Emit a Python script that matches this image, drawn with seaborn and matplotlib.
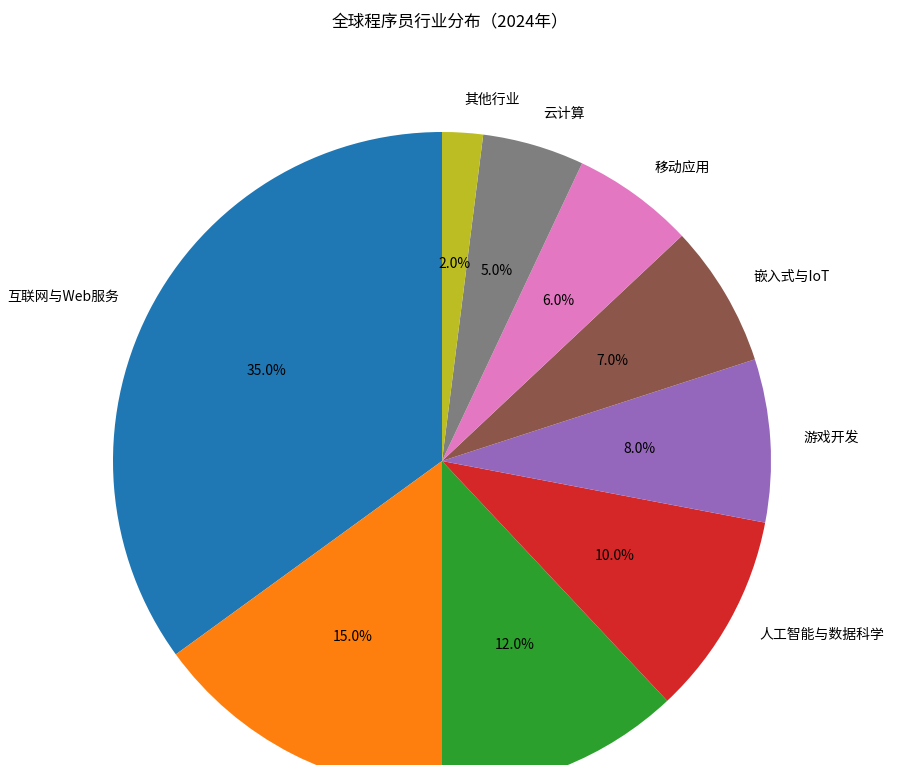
import matplotlib
matplotlib.use("Agg")
import matplotlib.pyplot as plt
import seaborn as sns

# 行业分布数据
industries = ['互联网与Web服务', '金融科技', '企业软件', '人工智能与数据科学',
              '游戏开发', '嵌入式与IoT', '移动应用', '云计算', '其他行业']
shares = [35, 15, 12, 10, 8, 7, 6, 5, 2]
title = '全球程序员行业分布（2024年）'

sns.set_style('white')
plt.rcParams['font.family'] = ['Noto Sans CJK SC', 'DejaVu Sans']
plt.rcParams['text.color'] = 'black'

colors = sns.color_palette('tab10', len(industries))

fig = plt.figure(figsize=(9, 7.65), dpi=100)
# 饼图中心 (442, 461) px, 半径 329 px -> 轴范围 2.5 * 329
side = 2.5 * 329
cx, cy = 442, 765 - 461
ax = fig.add_axes([(cx - side / 2) / 900, (cy - side / 2) / 765, side / 900, side / 765])

ax.pie(shares, labels=industries, colors=colors, autopct='%1.1f%%',
       startangle=90, textprops={'fontsize': 10, 'color': 'black'},
       wedgeprops={'linewidth': 0, 'edgecolor': 'none'})
ax.set_aspect('equal')

fig.text(0.5, 1 - 22 / 765, title, ha='center', va='center', fontsize=12, color='black')

fig.savefig('out.png', dpi=100)
